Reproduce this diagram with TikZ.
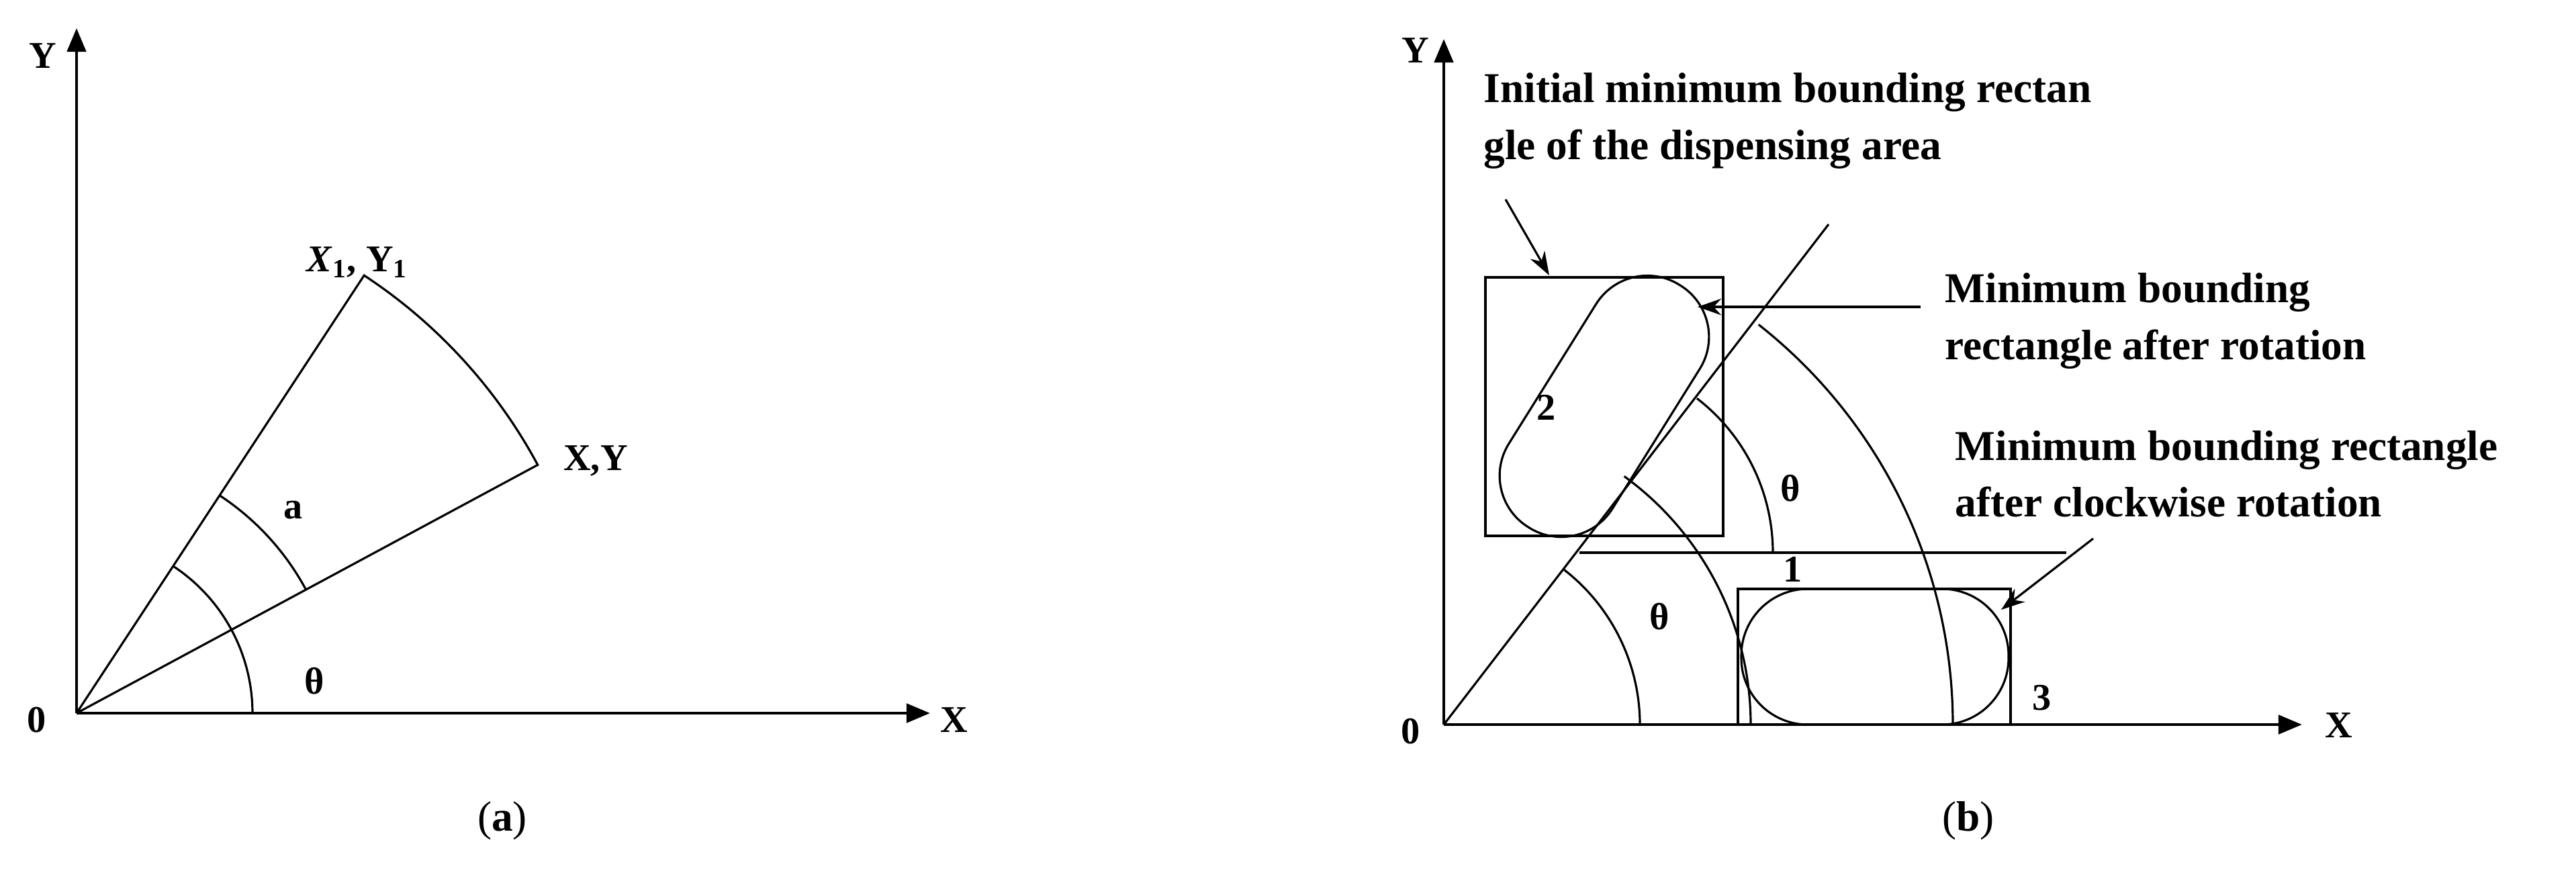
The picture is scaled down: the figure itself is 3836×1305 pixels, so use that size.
\documentclass[tikz,border=0pt]{standalone}
\usepackage{fontspec}
\setmainfont{Liberation Serif}
\usetikzlibrary{arrows.meta}
\begin{document}
\begin{tikzpicture}[x=0.01cm,y=-0.01cm,
  axis/.style={line width=1.4pt,-{Triangle[length=10pt,width=8pt]}},
  thinline/.style={line width=0.9pt},
  pointer/.style={line width=0.9pt,-{Stealth[length=10pt,width=7pt]}},
  lbl/.style={font=\fontsize{16}{18}\selectfont\bfseries,inner sep=0pt},
  txt/.style={font=\fontsize{18}{24}\selectfont\bfseries,align=left,inner sep=0pt,anchor=west},
  subcap/.style={font=\fontsize{18}{20}\selectfont,inner sep=0pt}]
\useasboundingbox (0,0) rectangle (3836,1305);
% ---------- panel (a)
\coordinate (Oa) at (114,1062);
\coordinate (Ya) at (114,42);
\coordinate (Xa) at (1385,1062);
\draw[axis] (Oa) -- (Ya);
\draw[axis] (Oa) -- (Xa);
\node[lbl] (ya) at (64,83) {Y};
\node[lbl] (xa) at (1421,1072) {X};
\node[lbl] (oa) at (55,1072) {0};
\draw[thinline] (Oa) -- ++(-28.3:780) coordinate (XY) arc[start angle=-28.3,end angle=-56.7,radius=780] coordinate (X1Y1) -- (Oa);
\draw[thinline] (Oa) ++(-28.4:388) arc[start angle=-28.4,end angle=-56.7,radius=388];
\draw[thinline] (Oa) ++(0:262) arc[start angle=0,end angle=-56.7,radius=262];
\node[lbl] (la) at (437,760) {a};
\node[lbl] (tha) at (468,1014) {θ};
\node[lbl] (lx1) at (532,391) {\textit{X}$_{\mathbf 1}$, Y$_{\mathbf 1}$};
\node[lbl] (lxy) at (887,686) {X,Y};
\node[subcap] (capa) at (748,1222) {(\textbf{a})};
% ---------- panel (b)
\coordinate (Ob) at (2150,1079);
\draw[axis] (Ob) -- (2150,58);
\draw[axis] (Ob) -- (3428,1079);
\node[lbl] (yb) at (2108,75) {Y};
\node[lbl] (xb) at (3483,1080) {X};
\node[lbl] (ob) at (2101,1089) {0};
\draw[thinline] (Ob) -- (2723,334);
\draw[thinline] (2212,413) rectangle (2566,798);
\node[draw,thinline,rotate=58,minimum width=4.25cm,minimum height=1.82cm,rounded corners=0.9cm,inner sep=0pt] (st2) at (2389,605) {};
\draw[thinline] (2352,823) -- (3077,823);
\draw[thinline] (2350,823) ++(0:290) arc[start angle=0,end angle=-52.4,radius=290];
\draw[thinline] (Ob) ++(0:292) arc[start angle=0,end angle=-52.4,radius=292];
\draw[thinline] (Ob) ++(0:457) arc[start angle=0,end angle=-54,radius=457];
\draw[thinline] (Ob) ++(0:758) arc[start angle=0,end angle=-51.8,radius=758];
\draw[thinline] (2588,877) rectangle (2994,1079);
\draw[thinline,rounded corners=0.99cm] (2593,877) rectangle (2991,1079);
\node[lbl] (n1) at (2670,848) {1};
\node[lbl] (n2) at (2303,607) {2};
\node[lbl] (n3) at (3041,1039) {3};
\node[lbl] (thb1) at (2666,727) {θ};
\node[lbl] (thb2) at (2471,918) {θ};
\node[txt] (t1) at (2209,180) {Initial minimum bounding rectan\\gle of the dispensing area};
\node[txt] (t2) at (2896,478) {Minimum bounding\\rectangle after rotation};
\node[txt] (t3) at (2911,706) {Minimum bounding rectangle\\after clockwise rotation};
\coordinate (a1s) at (2242,297); \coordinate (a1e) at (2307,410);
\coordinate (a2s) at (2860,457); \coordinate (a2e) at (2528,457);
\coordinate (a3s) at (3117,802); \coordinate (a3e) at (2980,908);
\draw[pointer] (a1s) -- (a1e);
\draw[pointer] (a2s) -- (a2e);
\draw[pointer] (a3s) -- (a3e);
\node[subcap] (capb) at (2931,1222) {(\textbf{b})};
\end{tikzpicture}
\end{document}
